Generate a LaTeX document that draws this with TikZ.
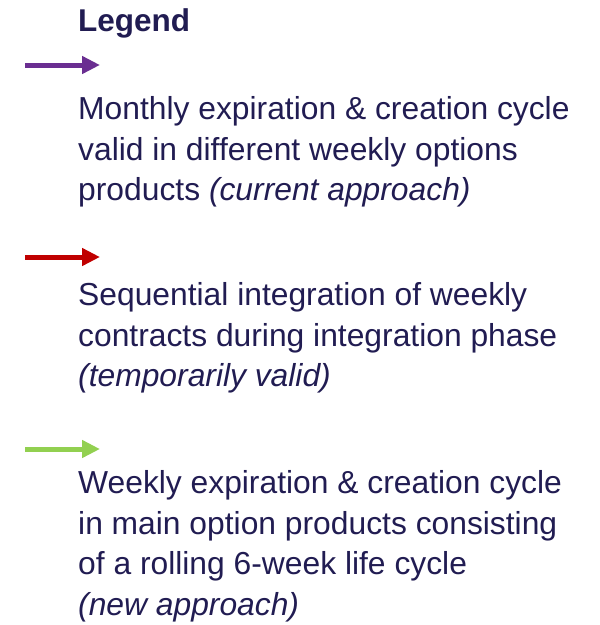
\documentclass[tikz,border=0pt]{standalone}
\usepackage{fontspec}
\setmainfont{Liberation Sans}
\usetikzlibrary{arrows.meta,positioning}
\definecolor{legnavy}{RGB}{33,28,82}
\definecolor{legpurple}{RGB}{106,46,145}
\definecolor{legred}{RGB}{192,0,0}
\definecolor{leggreen}{RGB}{146,208,80}

\begin{document}
\begin{tikzpicture}[x=1pt,y=-1pt,legtext/.style={anchor=north west,align=left,inner sep=0pt,
  text=legnavy,font=\fontsize{31.8}{40.8}\selectfont},
  legarrow/.style={line width=5pt,-{Triangle[length=18pt,width=17pt]}}]
\useasboundingbox (0,0) rectangle (600,625);
\node[legtext,anchor=base west,font=\fontsize{31.5}{40.8}\selectfont\bfseries] (title) at (78,31) {Legend};
\coordinate (mon0) at (25,65);\coordinate (mon1) at (100,65);
\coordinate (seq0) at (25,257);\coordinate (seq1) at (100,257);
\coordinate (wk0) at (25,449);\coordinate (wk1) at (100,449);
\draw[legarrow,legpurple] (mon0)--(mon1);
\draw[legarrow,legred] (seq0)--(seq1);
\draw[legarrow,leggreen] (wk0)--(wk1);
\node[legtext] (monthly) at (78,96) {Monthly expiration \& creation cycle\\valid in different weekly options\\products \textit{(current approach)}};
\node[legtext] (sequential) at (78,282) {Sequential integration of weekly\\contracts during integration phase\\\textit{(temporarily valid)}};
\node[legtext] (weekly) at (78,470) {Weekly expiration \& creation cycle\\in main option products consisting\\of a rolling 6-week life cycle\\\textit{(new approach)}};
\end{tikzpicture}
\end{document}
